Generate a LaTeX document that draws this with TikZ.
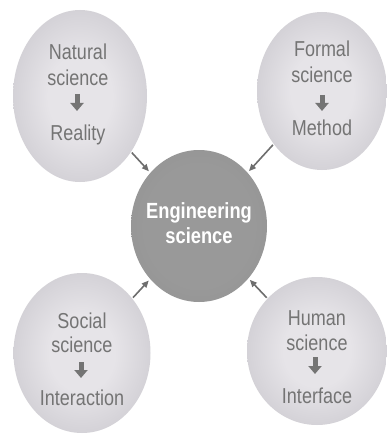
\documentclass[tikz,border=0pt]{standalone}
\usepackage{fontspec}
\setmainfont{Liberation Sans}
\usetikzlibrary{shapes.geometric,arrows.meta}

\definecolor{ballin}{HTML}{E6E4E8}
\definecolor{ballmid}{HTML}{CAC8CE}
\definecolor{ballout}{HTML}{ADABB1}
\definecolor{corein}{HTML}{999999}
\definecolor{coreout}{HTML}{8A8A8A}
\definecolor{labelgray}{HTML}{747474}
\definecolor{linkgray}{HTML}{6E6E6E}

\pgfdeclareradialshading{fieldshade}{\pgfpoint{0bp}{0bp}}{%
  color(0bp)=(ballin); color(12bp)=(ballin); color(32bp)=(ballmid);
  color(49bp)=(ballout); color(50bp)=(ballout)}
\pgfdeclareradialshading{coreshade}{\pgfpoint{0bp}{0bp}}{%
  color(0bp)=(corein); color(20bp)=(corein); color(50bp)=(coreout)}

% labels are set a little taller than the font's natural shape
\newcommand{\tallword}[1]{\scalebox{1}[1.2]{#1}}

\tikzset{
  field/.style={ellipse, inner sep=0pt, shading=fieldshade},
  core/.style={ellipse, inner sep=0pt, shading=coreshade},
  fieldtext/.style={anchor=base, inner sep=0pt, text=labelgray,
    font=\fontsize{18}{20}\selectfont},
  coretext/.style={anchor=base, inner sep=0pt, text=white,
    font=\fontsize{18.3}{20}\selectfont\bfseries},
  downarrow/.style={draw=labelgray, line width=5pt,
    -{Triangle[width=13pt,length=8pt]}},
  link/.style={draw=linkgray, line width=1.6pt,
    -{Triangle[width=6pt,length=7pt]}, shorten <=1pt, shorten >=2pt}
}

\begin{document}
\begin{tikzpicture}[x=1pt,y=-1pt]
\useasboundingbox (0,0) rectangle (387,441);
\fill[white] (0,0) rectangle (387,441);

% the five fields
\node[field, minimum width=134pt, minimum height=172pt] (nat) at (80,96) {};
\node[field, minimum width=130pt, minimum height=158pt] (frm) at (322,91) {};
\node[field, minimum width=137pt, minimum height=160pt] (soc) at (82,353) {};
\node[field, minimum width=140pt, minimum height=148pt] (hum) at (317,351) {};
\node[core,  minimum width=136pt, minimum height=152pt] (eng) at (199,226) {};

% labels of the outer fields
\node[fieldtext] (natA) at (78,60)  {\tallword{Natural}};
\node[fieldtext] (natB) at (78,85)  {\tallword{science}};
\node[fieldtext] (natC) at (78,140) {\tallword{Reality}};
\coordinate (natT) at (77,94);
\coordinate (natH) at (77,111);

\node[fieldtext] (frmA) at (322,57)  {\tallword{Formal}};
\node[fieldtext] (frmB) at (322,83)  {\tallword{science}};
\node[fieldtext] (frmC) at (322,135) {\tallword{Method}};
\coordinate (frmT) at (322,95);
\coordinate (frmH) at (322,111);

\node[fieldtext] (socA) at (82,328) {\tallword{Social}};
\node[fieldtext] (socB) at (82,352) {\tallword{science}};
\node[fieldtext] (socC) at (82,405) {\tallword{Interaction}};
\coordinate (socT) at (81,362);
\coordinate (socH) at (81,378);

\node[fieldtext] (humA) at (317,325) {\tallword{Human}};
\node[fieldtext] (humB) at (317,350) {\tallword{science}};
\node[fieldtext] (humC) at (317,403) {\tallword{Interface}};
\coordinate (humT) at (315,357);
\coordinate (humH) at (315,374);

% small down arrows inside the fields
\draw[downarrow] (natT) -- (natH);
\draw[downarrow] (frmT) -- (frmH);
\draw[downarrow] (socT) -- (socH);
\draw[downarrow] (humT) -- (humH);

% centre label
\node[coretext] (engA) at (199,218) {\tallword{Engineering}};
\node[coretext] (engB) at (199,243) {\tallword{science}};

% connectors into the centre
\draw[link] (nat) -- (eng);
\draw[link] (frm) -- (eng);
\draw[link] (soc) -- (eng);
\draw[link] (hum) -- (eng);
\end{tikzpicture}
\end{document}
